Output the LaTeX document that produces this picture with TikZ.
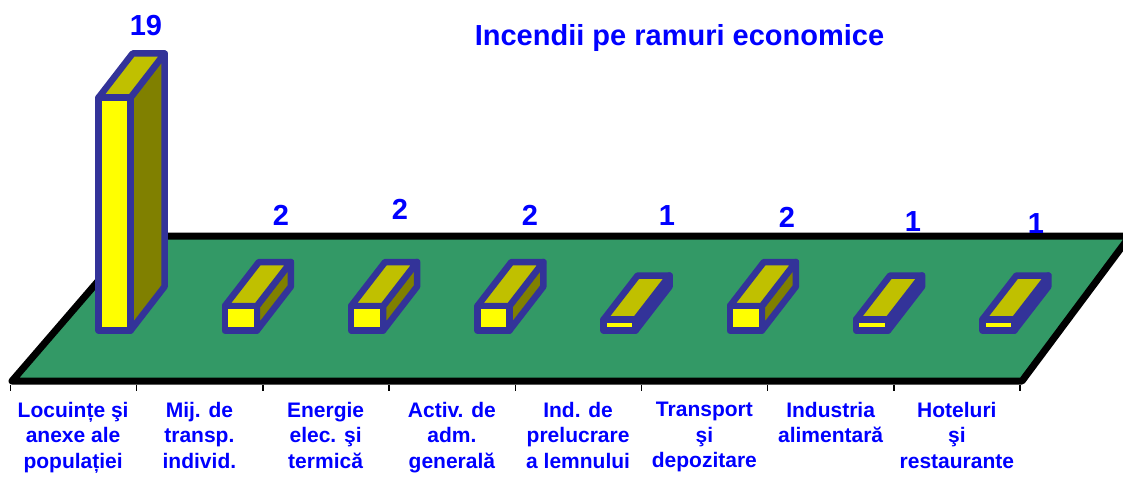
\documentclass[tikz,border=0pt]{standalone}
\usepackage{fontspec}
\setmainfont{Liberation Sans}
\definecolor{floorgreen}{HTML}{339966}
\definecolor{barfront}{HTML}{FFFF00}
\definecolor{bartop}{HTML}{C0C000}
\definecolor{barside}{HTML}{808000}
\definecolor{barblue}{HTML}{333399}
\definecolor{labelblue}{HTML}{0000FF}
\newcommand\drawcolbar[2]{%
  \filldraw[barline, fill=barside] (#1+16,330.5) -- (#1+16,330.5-#2) -- (#1+50,286.5-#2) -- (#1+50,286.5) -- cycle;
  \filldraw[barline, fill=bartop] (#1-16,330.5-#2) -- (#1+16,330.5-#2) -- (#1+50,286.5-#2) -- (#1+18,286.5-#2) -- cycle;
  \filldraw[barline, fill=barfront] (#1-16,330.5) rectangle (#1+16,330.5-#2);
}
\begin{document}
\begin{tikzpicture}[x=1pt,y=-1pt,
  barline/.style={draw=barblue, line width=6.5pt, line join=round},
  floorline/.style={draw=black, line width=7pt, line join=round},
  tickline/.style={draw=black, line width=1.5pt},
  numlabel/.style={text=labelblue, font=\fontsize{29}{33}\selectfont\bfseries, inner sep=0pt, anchor=base},
  catlabel/.style={text=labelblue, font=\fontsize{21}{25.5}\selectfont\bfseries, inner sep=0pt, anchor=north, align=center},
  titlelabel/.style={text=labelblue, font=\fontsize{29}{33}\selectfont\bfseries, inner sep=0pt, anchor=base}]
\useasboundingbox (0,0) rectangle (1123,476);
\clip (0,0) rectangle (1123,476);
% floor
\filldraw[floorline, fill=floorgreen] (12,381) -- (1022,381) -- (1130,236) -- (137,236) -- cycle;
% ticks
\foreach \k in {0,...,8} \draw[tickline] (10.5+126.2*\k,385) -- (10.5+126.2*\k,391);
% bars
\drawcolbar{114.6}{233}
\drawcolbar{240.9}{24.5}
\drawcolbar{367.1}{24.5}
\drawcolbar{493.4}{24.5}
\drawcolbar{619.6}{11}
\drawcolbar{745.9}{24.5}
\drawcolbar{872.1}{11}
\drawcolbar{998.4}{11}
% value labels
\node[numlabel] (v1) at (146,36) {19};
\node[numlabel] (v2) at (281,225) {2};
\node[numlabel] (v3) at (400,219) {2};
\node[numlabel] (v4) at (530,225) {2};
\node[numlabel] (v5) at (667,225) {1};
\node[numlabel] (v6) at (787,227) {2};
\node[numlabel] (v7) at (913,231) {1};
\node[numlabel] (v8) at (1036,233) {1};
% title
\node[titlelabel] (title) at (679.5,46) {Incendii pe ramuri economice};
% category labels
\node[catlabel] (c1) at (73.1,402) {Locuințe şi\\anexe ale\\populației};
\node[catlabel] (c2) at (199.4,402) {Mij. de\\transp.\\individ.};
\node[catlabel] (c3) at (325.6,402) {Energie\\elec. şi\\termică};
\node[catlabel] (c4) at (451.9,402) {Activ. de\\adm.\\generală};
\node[catlabel] (c5) at (578.1,402) {Ind. de\\prelucrare\\a lemnului};
\node[catlabel] (c6) at (704.4,402) {Transport\\şi\\depozitare};
\node[catlabel] (c7) at (830.6,402) {Industria\\alimentară};
\node[catlabel] (c8) at (956.9,402) {Hoteluri\\şi\\restaurante};
\end{tikzpicture}
\end{document}
